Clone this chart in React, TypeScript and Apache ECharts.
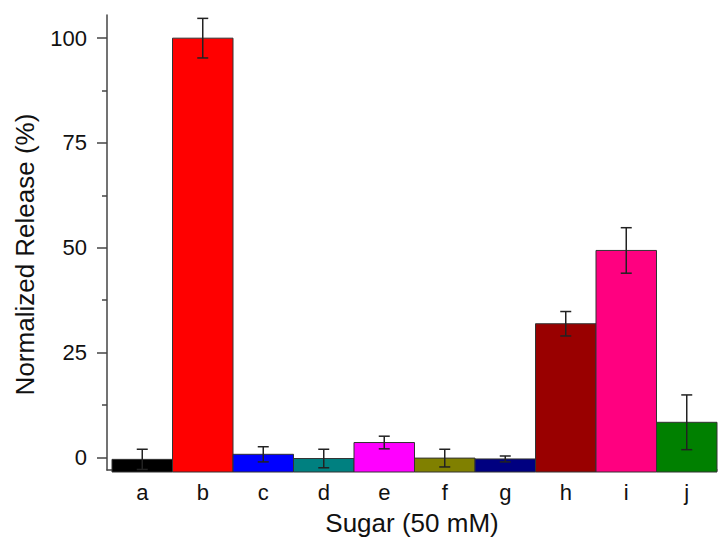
import React, { useEffect, useRef } from "react";
import * as echarts from "echarts";

const categories = ["a", "b", "c", "d", "e", "f", "g", "h", "i", "j"];
const releaseValues = [0, 100, 1.2, 0.2, 4.0, 0.3, 0.1, 32.2, 49.6, 8.8];
const errorValues = [2.4, 4.7, 1.8, 2.2, 1.5, 2.1, 0.7, 2.9, 5.4, 6.5];
const barColors = [
  "#000000",
  "#ff0000",
  "#0000ff",
  "#008080",
  "#ff00ff",
  "#808000",
  "#000080",
  "#990000",
  "#ff0080",
  "#008000",
];
const majorTicks = [0, 25, 50, 75, 100];
const minorTicks = [12.5, 37.5, 62.5, 87.5];
const yMin = -3;
const yMax = 105.5;

const FONT = '"Liberation Sans", Arial, sans-serif';
const AXIS_COLOR = "#444";

export default function App() {
  const ref = useRef<HTMLDivElement>(null);

  useEffect(() => {
    document.body.style.margin = "0";
    if (!ref.current) return;
    const chart = echarts.init(ref.current, null, { renderer: "svg" });

    const gridTop = 15;
    const gridBottom = 69;

    chart.setOption({
      animation: false,
      backgroundColor: "#ffffff",
      grid: [
        { left: 112, right: 1, top: gridTop, bottom: gridBottom },
        { left: 107, right: 1, top: gridTop, bottom: gridBottom },
      ],
      xAxis: [
        {
          type: "category",
          gridIndex: 0,
          position: "bottom",
          data: categories,
          axisLine: { show: false, onZero: false },
          axisTick: { show: false },
          axisLabel: {
            fontFamily: FONT,
            fontSize: 22,
            color: "#111",
            margin: 9,
          },
        },
        {
          type: "value",
          gridIndex: 1,
          position: "bottom",
          min: 0,
          max: 1,
          axisLine: {
            show: true,
            onZero: false,
            lineStyle: { color: AXIS_COLOR, width: 1.5 },
          },
          axisTick: { show: false },
          axisLabel: { show: false },
          splitLine: { show: false },
          name: "Sugar (50 mM)",
          nameLocation: "middle",
          nameGap: 40,
          nameTextStyle: { fontFamily: FONT, fontSize: 26, color: "#111" },
        },
      ],
      yAxis: [
        {
          type: "value",
          gridIndex: 0,
          min: yMin,
          max: yMax,
          show: false,
        },
        {
          type: "value",
          gridIndex: 1,
          position: "left",
          min: yMin,
          max: yMax,
          axisLine: {
            show: true,
            onZero: false,
            lineStyle: { color: AXIS_COLOR, width: 1.5 },
          },
          axisTick: {
            show: true,
            length: 10,
            customValues: majorTicks,
            lineStyle: { color: AXIS_COLOR, width: 1.5 },
          },
          axisLabel: {
            customValues: majorTicks,
            fontFamily: FONT,
            fontSize: 22,
            color: "#111",
            margin: 20,
          },
          splitLine: { show: false },
          name: "Normalized Release (%)",
          nameLocation: "middle",
          nameGap: 69,
          nameRotate: 90,
          nameTextStyle: {
            fontFamily: FONT,
            fontSize: 26,
            color: "#111",
            padding: [0, 24, 0, 0],
          },
        },
        {
          type: "value",
          gridIndex: 1,
          position: "left",
          offset: 0,
          min: yMin,
          max: yMax,
          axisLine: { show: false, onZero: false },
          axisTick: {
            show: true,
            length: 5,
            customValues: minorTicks,
            lineStyle: { color: AXIS_COLOR, width: 1.5 },
          },
          axisLabel: { show: false },
          splitLine: { show: false },
        },
      ],
      series: [
        {
          type: "custom",
          name: "Release",
          xAxisIndex: 0,
          yAxisIndex: 0,
          data: releaseValues.map((v, i) => [i, v]),
          renderItem: (params: any, api: any) => {
            const idx = api.value(0);
            const v = api.value(1);
            const top = api.coord([idx, v]);
            const base = api.coord([idx, yMin]);
            const w = api.size([1, 0])[0];
            return {
              type: "rect",
              shape: {
                x: top[0] - w / 2,
                y: top[1],
                width: w,
                height: base[1] - top[1],
              },
              style: {
                fill: barColors[params.dataIndex],
                stroke: "#333",
                lineWidth: 1,
              },
            };
          },
          z: 2,
        },
        {
          type: "custom",
          name: "Error",
          xAxisIndex: 0,
          yAxisIndex: 0,
          data: releaseValues.map((v, i) => [i, v, errorValues[i]]),
          renderItem: (params: any, api: any) => {
            const idx = api.value(0);
            const v = api.value(1);
            const e = api.value(2);
            const hi = api.coord([idx, v + e]);
            const lo = api.coord([idx, v - e]);
            const cap = 5.5;
            const style = { stroke: "#222", lineWidth: 1.5 };
            return {
              type: "group",
              children: [
                {
                  type: "line",
                  shape: { x1: hi[0], y1: hi[1], x2: lo[0], y2: lo[1] },
                  style,
                },
                {
                  type: "line",
                  shape: { x1: hi[0] - cap, y1: hi[1], x2: hi[0] + cap, y2: hi[1] },
                  style,
                },
                {
                  type: "line",
                  shape: { x1: lo[0] - cap, y1: lo[1], x2: lo[0] + cap, y2: lo[1] },
                  style,
                },
              ],
            };
          },
          z: 3,
        },
      ],
    });

    return () => chart.dispose();
  }, []);

  return <div ref={ref} style={{ width: 718, height: 541 }} />;
}
